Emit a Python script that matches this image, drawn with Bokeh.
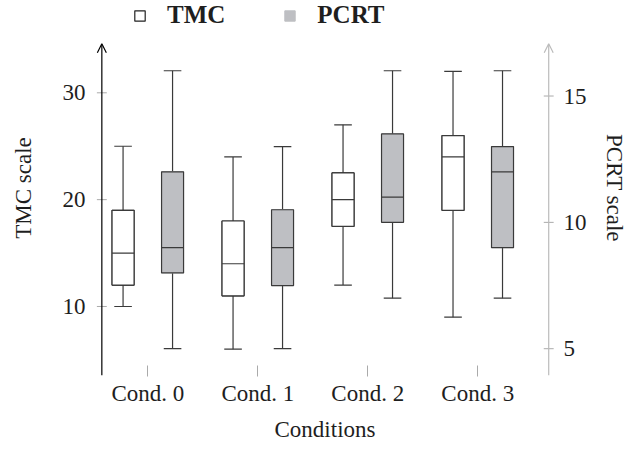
from bokeh.plotting import figure
from bokeh.models import Range1d, LinearAxis, FixedTicker, Legend, LegendItem, Arrow, OpenHead, ColumnDataSource
from bokeh.embed import file_html
from bokeh.resources import INLINE

# ---- data ----
conditions = ["Cond. 0", "Cond. 1", "Cond. 2", "Cond. 3"]
positions = [0, 1, 2, 3]
tmc_lower = [10, 6, 12, 9]
tmc_q1 = [12, 11, 17.5, 19]
tmc_median = [15, 14, 20, 24]
tmc_q3 = [19, 18, 22.5, 26]
tmc_upper = [25, 24, 27, 32]
pcrt_lower = [5, 5, 7, 7]
pcrt_q1 = [8, 7.5, 10, 9]
pcrt_median = [9, 9, 11, 12]
pcrt_q3 = [12, 10.5, 13.5, 13]
pcrt_upper = [16, 13, 16, 16]
left_ticks = [10, 20, 30]
right_ticks = [5, 10, 15]

FONT = "Liberation Serif"
FS = "23px"
LINE = "#3a3a3a"
GRAY_FILL = "#bebfc3"
TXT = "#1e1e1e"
TICK = "#aaaaaa"
OFF = 0.225
BW = 0.2
CW = 0.16

# frame spans whole top area; axis lines are drawn as arrows inside it
x0, x1 = -0.512, 3.734
xL, xR = -0.418, 3.645          # positions of the two y-axis lines
yL0, yL1 = 3.54, 34.59          # left axis extent
yR0, yR1 = 3.94, 17.07          # right axis extent
TK = 0.045                       # half tick length in x units

p = figure(width=633, height=449, output_backend="svg", toolbar_location=None,
           x_range=Range1d(x0, x1), y_range=Range1d(yL0, 38.64),
           min_border_left=91, min_border_right=75, min_border_top=0, min_border_bottom=74)
p.extra_y_ranges = {"pcrt": Range1d(yR0, 18.78)}
p.xgrid.visible = False
p.ygrid.visible = False
p.outline_line_color = None
p.background_fill_color = "white"
p.border_fill_color = "white"


def box_source(lower, q1, med, q3, upper, off):
    xs = [x + off for x in positions]
    return ColumnDataSource(dict(
        x=xs, lower=lower, q1=q1, med=med, q3=q3, upper=upper,
        cl=[x - CW / 2 for x in xs], cr=[x + CW / 2 for x in xs],
        bl=[x - BW / 2 for x in xs], br=[x + BW / 2 for x in xs]))


def draw(src, fill, yname, swatch):
    kw = {} if yname is None else {"y_range_name": yname}
    p.segment("x", "upper", "x", "q3", source=src, line_color=LINE, line_width=1.2, **kw)
    p.segment("x", "lower", "x", "q1", source=src, line_color=LINE, line_width=1.2, **kw)
    p.segment("cl", "upper", "cr", "upper", source=src, line_color=LINE, line_width=1.2, **kw)
    p.segment("cl", "lower", "cr", "lower", source=src, line_color=LINE, line_width=1.2, **kw)
    # underlay (same geometry, covered by the box) used as the legend swatch
    sw = p.vbar(x="x", width=BW, top="q3", bottom="q1", source=src, fill_color=swatch[0],
                line_color=swatch[1], line_width=swatch[2], **kw)
    p.vbar(x="x", width=BW, top="q3", bottom="q1", source=src, fill_color=fill,
           line_color=LINE, line_width=1.2, **kw)
    p.segment("bl", "med", "br", "med", source=src, line_color=LINE, line_width=1.2, **kw)
    return sw


tmc_src = box_source(tmc_lower, tmc_q1, tmc_median, tmc_q3, tmc_upper, -OFF)
pcrt_src = box_source(pcrt_lower, pcrt_q1, pcrt_median, pcrt_q3, pcrt_upper, OFF)
sw_tmc = draw(tmc_src, "white", None, ("white", "#222222", 1.2))
sw_pcrt = draw(pcrt_src, GRAY_FILL, "pcrt", (GRAY_FILL, GRAY_FILL, 1))

# ---- axis lines with arrows and crossing ticks ----
p.add_layout(Arrow(end=OpenHead(size=9, line_width=1.2, line_color="black"),
                   x_start=xL, y_start=yL0, x_end=xL, y_end=yL1,
                   line_color="black", line_width=1.2))
p.add_layout(Arrow(end=OpenHead(size=9, line_width=1.2, line_color="#bbbbbb"),
                   x_start=xR, y_start=yR0, x_end=xR, y_end=yR1, y_range_name="pcrt",
                   line_color="#bbbbbb", line_width=1.2))
p.segment(x0=[xL - TK] * len(left_ticks), y0=left_ticks, x1=[xL + TK] * len(left_ticks),
          y1=left_ticks, line_color=TICK, line_width=1)
p.segment(x0=[xR - TK] * len(right_ticks), y0=right_ticks, x1=[xR + TK] * len(right_ticks),
          y1=right_ticks, line_color=TICK, line_width=1, y_range_name="pcrt")

# ---- axes (labels only for y) ----
xa = p.xaxis[0]
xa.ticker = FixedTicker(ticks=positions)
xa.major_label_overrides = {i: c for i, c in zip(positions, conditions)}
xa.axis_line_color = None
xa.major_tick_in = 10
xa.major_tick_out = 1
xa.major_tick_line_color = TICK
xa.minor_tick_line_color = None
xa.major_label_standoff = 4
xa.axis_label = "Conditions"
xa.axis_label_standoff = 8

ya = p.yaxis[0]
ya.ticker = FixedTicker(ticks=left_ticks)
ya.axis_line_color = None
ya.major_tick_in = 0
ya.major_tick_out = 0
ya.major_tick_line_color = None
ya.minor_tick_line_color = None
ya.major_label_standoff = 6
ya.axis_label = "TMC scale"
ya.axis_label_standoff = 24

ra = LinearAxis(y_range_name="pcrt", ticker=FixedTicker(ticks=right_ticks))
ra.axis_line_color = None
ra.major_tick_in = 0
ra.major_tick_out = 0
ra.major_tick_line_color = None
ra.minor_tick_line_color = None
ra.major_label_standoff = 5
ra.axis_label = "PCRT scale"
ra.axis_label_standoff = 12
p.add_layout(ra, "right")

for ax in (xa, ya, ra):
    ax.major_label_text_font = FONT
    ax.major_label_text_font_size = FS
    ax.major_label_text_color = TXT
    ax.axis_label_text_font = FONT
    ax.axis_label_text_font_size = FS
    ax.axis_label_text_font_style = "normal"
    ax.axis_label_text_color = TXT

# ---- legend ----
legend = Legend(items=[LegendItem(label="TMC", renderers=[sw_tmc]),
                       LegendItem(label="PCRT", renderers=[sw_pcrt])],
                orientation="horizontal", location=(42, 346),
                glyph_width=13, glyph_height=13, label_standoff=21, spacing=58,
                padding=0, margin=0, border_line_color=None, background_fill_alpha=0,
                label_text_font=FONT, label_text_font_size="25px", label_text_font_style="bold",
                label_text_color=TXT)
p.add_layout(legend)

open("out.html", "w").write(file_html(p, INLINE))
